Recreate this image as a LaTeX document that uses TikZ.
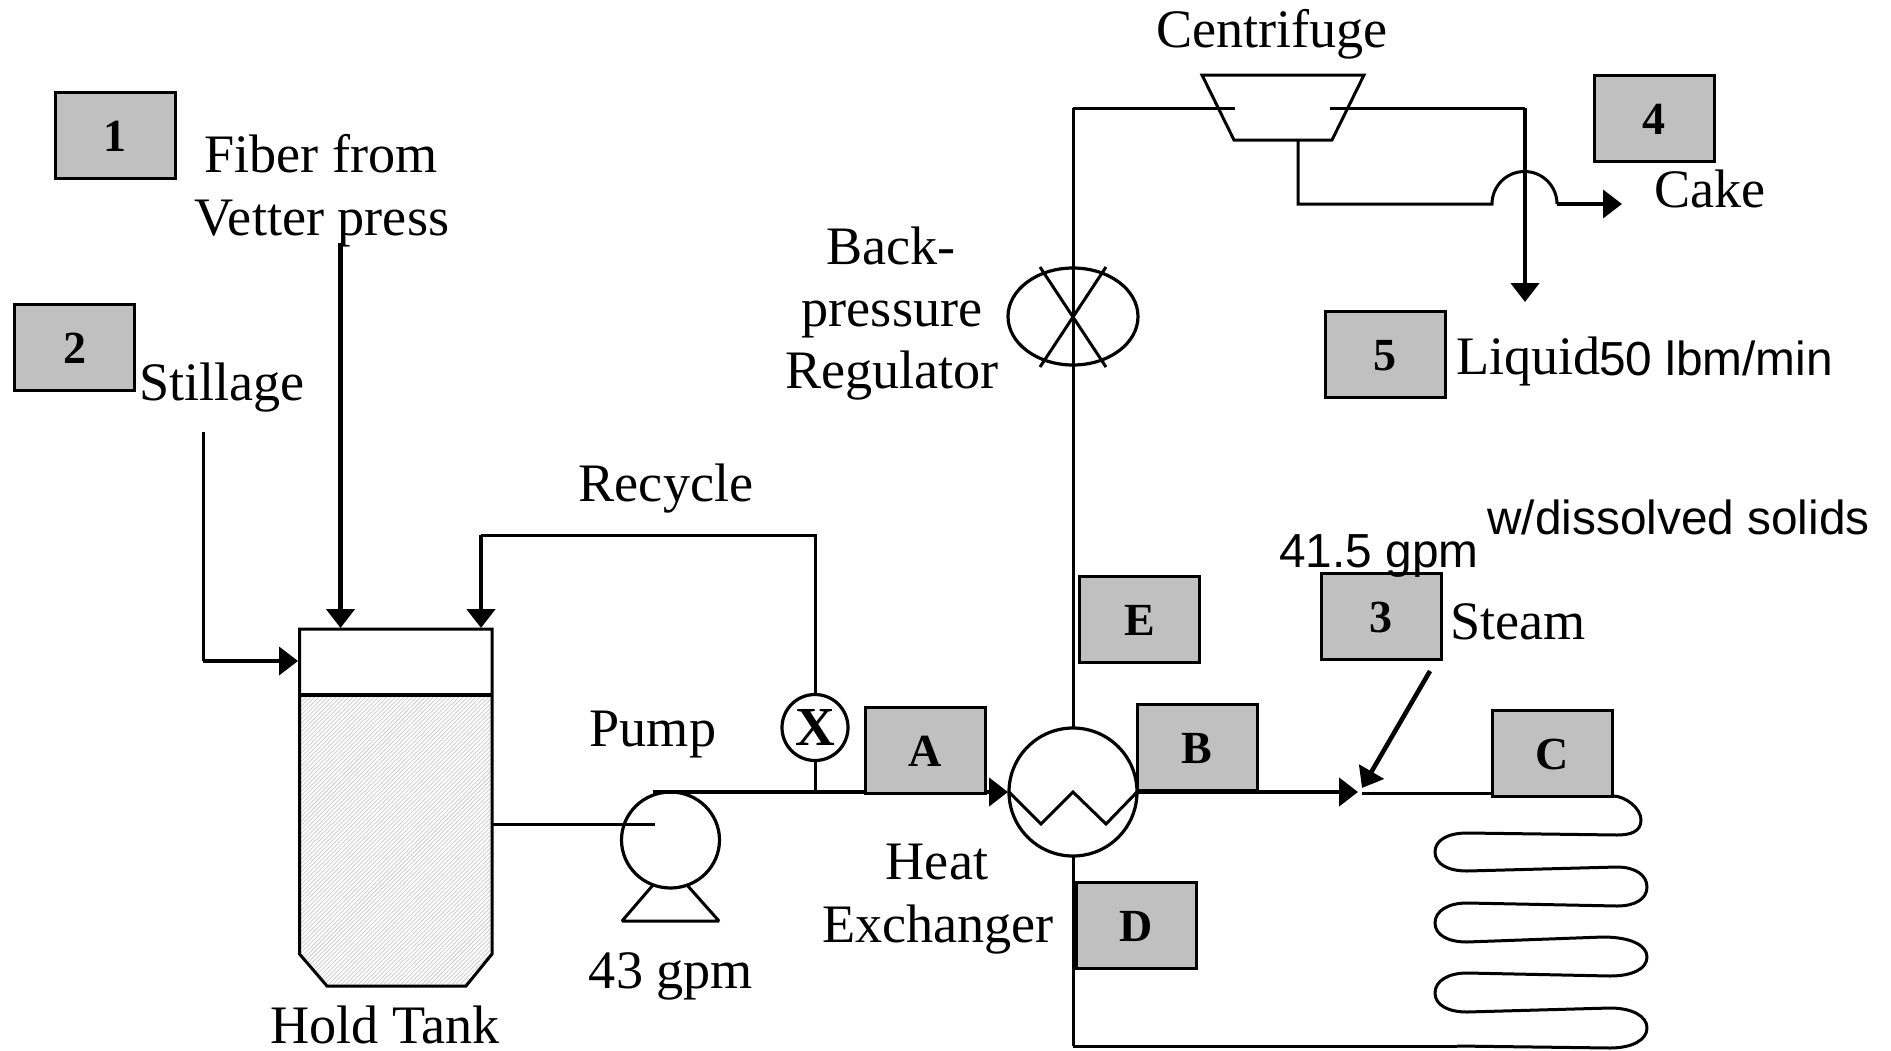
\documentclass[tikz,border=0pt]{standalone}
\usepackage{fontspec}
\setmainfont[Ligatures=NoCommon]{Liberation Serif}
\newfontfamily\arialfont{Liberation Sans}
\usetikzlibrary{arrows.meta,shapes.geometric,patterns.meta}
\newcommand{\boxtext}[1]{\raisebox{-2.5pt}{#1}}
\tikzset{
  pipe/.style={line width=3pt,line join=miter},
  heavy/.style={line width=4.6pt},
  flow/.style={-{Triangle[length=19pt,width=28pt]}},
  gbox/.style={draw=black,fill=boxgray,line width=3pt,minimum width=120pt,minimum height=86pt,inner sep=0pt,text depth=0pt,font=\fontsize{46}{50}\selectfont\bfseries},
  lab/.style={inner sep=0pt,anchor=base,font=\fontsize{54.2}{62}\selectfont},
  labl/.style={inner sep=0pt,anchor=base west,font=\fontsize{54.2}{62}\selectfont},
  sans/.style={inner sep=0pt,anchor=base west,font=\fontsize{47.8}{52}\arialfont\selectfont},
  roundvessel/.style={draw=black,fill=white,line width=3.2pt,inner sep=0pt,outer sep=0pt},
}
\definecolor{boxgray}{HTML}{C0C0C0}
\definecolor{tankgray}{HTML}{CFCFCF}
\begin{document}
\begin{tikzpicture}[x=1pt,y=-1pt]
\useasboundingbox (0,0) rectangle (1891,1050);
% named points
\coordinate (tankin1) at (340.5,243);
\coordinate (tankin1e) at (340.5,628);
\coordinate (tankin2e) at (481,628);
\coordinate (stillS) at (203,432);
\coordinate (stillC) at (203,661);
\coordinate (stillE) at (298,661);
\coordinate (tankout) at (493,824);
\coordinate (pumpin) at (655,824);
\coordinate (pumpout) at (653,792);
\coordinate (hxin) at (1008,792);
\coordinate (recycTee) at (815,792);
\coordinate (recycCorner) at (815,535);
\coordinate (recycLeft) at (481,535);
\coordinate (cenL) at (1235,108);
\coordinate (cenLC) at (1073,108);
\coordinate (cenR) at (1330,108);
\coordinate (cenRC) at (1525,108);
\coordinate (liqE) at (1525,302);
\coordinate (cakeA) at (1298,140);
\coordinate (cakeB) at (1298,204);
\coordinate (cakeC) at (1492,204);
\coordinate (cakeD) at (1557,204);
\coordinate (cakeE) at (1622,204);
\coordinate (hxout) at (1137,792);
\coordinate (mixIn) at (1358,792);
\coordinate (mixOut) at (1362,793);
\coordinate (steamS) at (1430,671);
\coordinate (steamE) at (1362,788);
\coordinate (coilIn) at (1613,796);
\coordinate (coilOut) at (1457,1046);
\coordinate (retCorner) at (1073,1046);
% tank
\path[pattern={Lines[angle=45,distance=3pt,line width=0.9pt]},pattern color=tankgray] (299.5,695) -- (492,695) -- (492,954) -- (466,986) -- (327,986) -- (299.5,954) -- cycle;
\draw[pipe] (299.5,629) -- (492,629) -- (492,954) -- (466,986) -- (327,986) -- (299.5,954) -- cycle;
\draw[line width=4pt] (299.5,695) -- (492,695);
% connectors
\draw[heavy,flow] (tankin1) -- (tankin1e);
\draw[pipe] (stillS) -- (stillC);
\draw[line width=3.8pt,flow] (stillC) -- (stillE);
\draw[pipe] (tankout) -- (pumpin);
\node[roundvessel,ellipse,minimum width=98pt,minimum height=96pt,fill=none] (pump) at (670.5,840) {};
\coordinate (baseL) at (622,921);
\coordinate (baseR) at (719,921);
\draw[pipe,line join=bevel] (653,885) -- (baseL) -- (baseR) -- (687,885);
\draw[heavy] (pumpout) -- (recycTee);
\draw[heavy,flow] (recycTee) -- (hxin);
\node[roundvessel,circle,minimum size=66pt,font=\fontsize{55}{55}\selectfont\bfseries] (valve) at (815,727.5) {X};
\draw[pipe] (recycTee) -- (valve.south);
\draw[pipe] (valve.north) -- (recycCorner) -- (recycLeft);
\draw[heavy,flow] (recycLeft) -- (tankin2e);
% heat exchanger and back-pressure regulator
\draw[pipe] (1073,1046) -- (1073,108);
\node[roundvessel,circle,minimum size=128pt] (hx) at (1073,792) {};
\draw[pipe] (hx.west) -- (1041,824) -- (1073,792) -- (1106,824) -- (hx.east);
\draw[heavy] (hx.east) -- (1320,792);
\draw[heavy,flow] (1320,792) -- (mixIn);
\draw[heavy,flow] (steamS) -- (steamE);
\draw[pipe] (mixOut) -- (1492,793);
\draw[pipe] (retCorner) -- (coilOut);
\node[roundvessel,ellipse,fill=none,minimum width=130pt,minimum height=97pt] (reg) at (1073,316.5) {};
\draw[pipe] (1040,367) -- (1106,267);
\draw[pipe] (1040,267) -- (1106,367);
\draw[pipe] (cenLC) -- (cenL);
% centrifuge
\node[inner sep=0pt] (cen) at (1283,108) {};
\draw[pipe] (1202,75) -- (1364,75) -- (1332,140) -- (1234,140) -- cycle;
\draw[pipe] (cenR) -- (cenRC);
\draw[heavy,flow] (cenRC) -- (liqE);
\draw[pipe] (cakeA) -- (cakeB) -- (cakeC) arc[start angle=180,end angle=360,radius=32.5];
\draw[line width=3.6pt,flow] (cakeD) -- (cakeE);
% coil
\draw[pipe,line join=round] (coilIn) .. controls (1625,796) and (1641,808) .. (1641,820)
  .. controls (1641,832) and (1630,835) .. (1617,835)
  -- (1467,833) .. controls (1448,833) and (1435,840) .. (1435,852)
  .. controls (1435,864) and (1448,871) .. (1467,871)
  -- (1617,867) .. controls (1635,867) and (1647,875) .. (1647,887)
  .. controls (1647,899) and (1635,906) .. (1617,906)
  -- (1467,903) .. controls (1448,903) and (1435,911) .. (1435,923)
  .. controls (1435,935) and (1448,942) .. (1467,942)
  -- (1603,937) .. controls (1630,937) and (1647,945) .. (1647,957)
  .. controls (1647,969) and (1632,976) .. (1610,976)
  -- (1467,973) .. controls (1448,973) and (1435,981) .. (1435,993)
  .. controls (1435,1005) and (1448,1012) .. (1467,1012)
  -- (1610,1008) .. controls (1632,1008) and (1647,1016) .. (1647,1028)
  .. controls (1647,1040) and (1632,1048) .. (1610,1048)
  -- (coilOut);
% gray boxes
\node[gbox] (n1) at (115,135.5) {\boxtext{1}};
\node[gbox] (n2) at (74.5,347.5) {\boxtext{2}};
\node[gbox] (n3) at (1381,616.5) {\boxtext{3}};
\node[gbox] (n4) at (1654,118.5) {\boxtext{4}};
\node[gbox] (n5) at (1385,354) {\boxtext{5}};
\node[gbox] (nA) at (925,750.5) {\boxtext{A}};
\node[gbox] (nB) at (1197,747) {\boxtext{B}};
\node[gbox] (nC) at (1552.5,753.5) {\boxtext{C}};
\node[gbox] (nD) at (1136,925.5) {\boxtext{D}};
\node[gbox] (nE) at (1139.5,619.5) {\boxtext{E}};
% labels
\node[lab] (tCen) at (1272,47) {Centrifuge};
\node[lab] (tFib1) at (321,172) {Fiber from};
\node[lab] (tFib2) at (322,235) {Vetter press};
\node[labl] (tSti) at (139,400) {Stillage};
\node[lab] (tRec) at (666,501) {Recycle};
\node[lab] (tPum) at (653,746) {Pump};
\node[lab] (t43) at (671,988) {43 gpm};
\node[lab] (tHold) at (385,1043) {Hold Tank};
\node[lab] (tHeat) at (937,879) {Heat};
\node[lab] (tExch) at (938,942) {Exchanger};
\node[lab] (tBack) at (891,264) {Back-};
\node[lab] (tPres) at (892,326) {pressure};
\node[lab] (tRegu) at (892,388) {Regulator};
\node[labl] (tLiq) at (1456,374) {Liquid};
\node[sans] (t50) at (1599,375) {50 lbm/min};
\node[labl] (tCake) at (1654,207) {Cake};
\node[sans] (tDis) at (1487,534) {w/dissolved solids};
\node[sans] (t41) at (1279,567) {41.5 gpm};
\node[labl] (tSte) at (1450,639) {Steam};
\end{tikzpicture}
\end{document}
